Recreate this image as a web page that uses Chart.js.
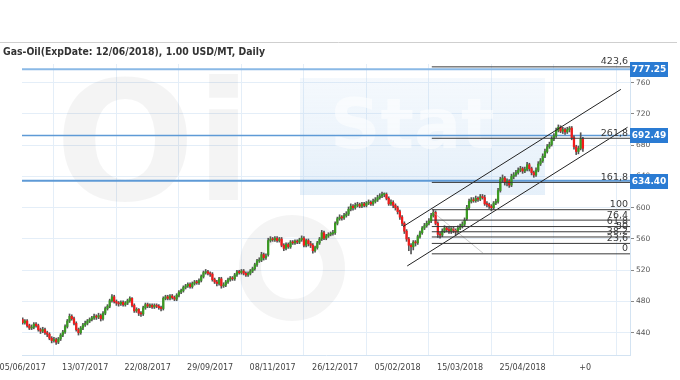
<!DOCTYPE html>
<html><head><meta charset="utf-8">
<script src="https://cdn.jsdelivr.net/npm/chart.js@4.4.0/dist/chart.umd.min.js"></script>
<style>html,body{margin:0;padding:0;background:#fff}canvas{display:block}</style>
</head><body>
<canvas id="c" width="680" height="380"></canvas>
<script>
const chartTitle = "Gas-Oil(ExpDate: 12/06/2018), 1.00 USD/MT, Daily";
const dateLabels = ["05/06/2017","13/07/2017","22/08/2017","29/09/2017","08/11/2017","26/12/2017","05/02/2018","15/03/2018","25/04/2018","+0"];
const dateTickIdx = [0,28,56,84,112,140,168,196,224,252];
const priceTicks = [440,480,520,560,600,640,680,720,760];

const opens = [457,453,455,449,446,447,451,449,444,442,
444,440,438,433,430,431,428,432,437,441,
448,455,461,458,452,444,440,446,450,452,
455,457,459,461,460,462,458,465,471,474,
481,486,480,478,477,479,476,478,481,484,
475,468,470,465,464,472,476,474,475,473,
475,474,472,471,484,486,484,487,485,483,
488,492,494,498,500,502,499,503,505,504,
507,512,517,518,516,515,508,505,503,509,
500,501,505,508,510,509,514,518,517,519,
516,514,516,519,522,527,532,533,540,536,
540,558,560,559,561,558,560,552,548,553,
550,556,555,557,556,559,561,552,558,554,
552,545,549,555,560,568,561,564,566,567,
568,580,586,588,587,590,592,598,602,600,
603,604,602,605,603,606,607,605,608,610,
613,615,617,617,612,605,607,603,600,595,
588,580,570,560,552,550,556,555,563,568,
574,577,580,583,590,594,580,566,565,570,
574,572,570,573,571,569,574,576,579,586,
600,608,610,609,612,611,614,613,605,604,
602,600,606,608,622,636,638,632,634,629,
640,642,645,648,650,647,649,655,650,645,
642,648,656,660,666,672,678,681,688,692,
699,703,698,700,697,700,702,690,678,672,
676,688];
const closes = [453,455,449,446,447,451,449,444,442,444,
440,438,433,430,431,428,432,437,441,448,
455,461,458,452,444,440,446,450,452,455,
457,459,461,460,462,458,465,471,474,481,
486,480,478,477,479,476,478,481,484,475,
468,470,465,464,472,476,474,475,473,475,
474,472,471,484,486,484,487,485,483,488,
492,494,498,500,502,499,503,505,504,507,
512,517,518,516,515,508,505,503,509,500,
501,505,508,510,509,514,518,517,519,516,
514,516,519,522,527,532,533,540,536,538,
558,560,559,561,558,560,552,548,553,550,
556,555,557,556,559,561,552,558,554,552,
545,549,555,560,568,561,564,566,567,568,
580,586,588,587,590,592,598,602,600,603,
604,602,605,603,606,607,605,608,610,613,
615,617,617,612,605,607,603,600,595,588,
580,570,560,552,550,556,555,563,568,574,
577,580,583,590,594,580,566,565,570,574,
572,570,573,571,569,574,576,579,584,600,
608,610,609,612,611,614,613,605,604,602,
600,606,608,622,636,638,632,634,629,640,
642,645,648,650,647,649,655,650,645,642,
648,656,660,666,672,678,681,688,692,699,
703,698,700,697,700,702,690,678,672,676,
688,676];
const highs = [459,457,457,451,450,453,453,451,446,447,
446,442,440,435,434,433,434,439,443,450,
457,464,463,460,454,446,448,452,455,457,
459,461,464,463,465,464,467,473,476,483,
489,488,482,480,481,481,480,483,486,485,
477,472,471,467,474,478,478,477,477,477,
477,476,474,486,488,488,489,489,487,490,
494,496,500,502,504,504,505,507,507,509,
514,519,521,520,518,517,510,507,511,511,
504,507,510,512,512,516,520,520,521,521,
518,518,521,524,529,534,536,543,542,541,
561,563,562,563,563,562,562,554,555,555,
558,558,559,559,561,564,563,560,560,557,
554,551,557,562,571,570,566,568,569,571,
582,588,591,590,593,595,601,605,604,606,
607,606,607,607,608,610,609,611,613,616,
618,620,619,619,614,610,609,605,602,597,
590,582,572,562,554,558,558,565,570,576,
580,583,586,593,597.5,596,582,569,573,577,
576,575,576,575,573,577,579,582,587,603,
611,613,613,615,614,617,617,616,608,606,
604,608,611,625,639,642,640,637,636,643,
645,648,651,653,652,652,658,657,652,647,
651,659,663,669,675,681,684,691,695,702,
706,705,703,702,703,704,704,692,680,679,
696,690];
const lows = [451,451,447,444,444,445,447,442,439,440,
438,435,431,427,428,425,426,430,435,439,
446,453,456,450,442,437,438,444,448,450,
453,455,457,457,458,455,456,463,469,472,
479,478,475,474,475,474,474,476,479,473,
466,466,462,461,462,470,472,472,471,471,
472,470,468,469,482,482,482,483,481,481,
486,490,492,496,498,497,497,501,502,502,
505,510,515,514,512,506,503,500,501,497,
498,499,503,506,507,507,512,515,515,514,
512,512,514,517,520,525,530,531,533,534,
538,556,557,557,556,556,550,545,546,548,
548,553,553,554,554,557,550,550,551,549,
542,543,547,553,558,559,559,562,564,565,
566,578,584,584,585,588,590,596,597,598,
601,600,600,601,601,604,603,603,606,608,
611,613,614,610,603,603,600,597,592,585,
577,567,557,545,541,546,551,553,561,566,
572,575,578,581,588,578,562,561,563,568,
569,567,567,568,565,567,572,574,577,584,
598,606,607,607,608,609,611,603,601,599,
596,598,604,606,620,633,629,628,626,627,
637,640,643,646,644,645,647,647,642,639,
640,646,654,658,664,670,676,679,686,690,
697,696,695,694,695,697,687,675,668,669,
674,672];

const levelValues = [777.25, 692.49, 634.40];
const levelTexts = ["777.25", "692.49", "634.40"];
const fibRatios = [0, 0.236, 0.382, 0.5, 0.618, 0.764, 1, 1.618, 2.618, 4.236];
const fibLabels = ["0","23,6","38,2","50","61,8","76,4","100","161,8","261,8","423,6"];
const fibLow = 541, fibHigh = 597.5, fibStartIdx = 183.3;
const channelUpper = [{x:170.5, y:576}, {x:268, y:751.5}];
const channelLower = [{x:172.3, y:525.5}, {x:271, y:703}];
const fibDiagonal = [{x:184, y:594}, {x:206.2, y:542}];

const X_MIN = -0.3, X_MAX = 272.1, Y_MIN = 411.5, Y_MAX = 784;
const GREEN = "#3a9a22", RED = "#f21a1a", WICK = "#555";
const fibLevels = fibRatios.map(r => fibLow + r * (fibHigh - fibLow));

const datasets = [];
levelValues.forEach((v, i) => datasets.push({
  type: 'line', data: [{x: X_MIN, y: v}, {x: X_MAX, y: v}],
  borderColor: i === 0 ? "#8ab9e6" : "#5e9ad6", borderWidth: i === 1 ? 1.5 : 2,
  pointRadius: 0, order: 5
}));
datasets.push({
  type: 'bar', data: highs.map((h, i) => ({x: i, y: [lows[i], h]})),
  backgroundColor: WICK, barThickness: 1, grouped: false, order: 4, borderWidth: 0
});
datasets.push({
  type: 'bar', data: opens.map((o, i) => ({x: i, y: [o, closes[i]]})),
  backgroundColor: opens.map((o, i) => closes[i] >= o ? GREEN : RED),
  barThickness: 1.6, grouped: false, minBarLength: 1, order: 3, borderWidth: 0
});
datasets.push({type:'line', data: fibDiagonal, borderColor: "rgba(170,170,170,0.6)", borderWidth: 1, pointRadius: 0, order: 2});
fibLevels.forEach(v => datasets.push({
  type: 'line', data: [{x: fibStartIdx, y: v}, {x: X_MAX, y: v}],
  borderColor: "#3a3a3a", borderWidth: 1, pointRadius: 0, order: 1
}));
datasets.push({type:'line', data: channelUpper, borderColor: "#222", borderWidth: 1, pointRadius: 0, order: 1});
datasets.push({type:'line', data: channelLower, borderColor: "#222", borderWidth: 1, pointRadius: 0, order: 1});

const watermark = {
  id: 'watermark',
  beforeDatasetsDraw(chart) {
    const ctx = chart.ctx;
    ctx.save();
    ctx.fillStyle = "rgba(0,0,0,0.045)";
    ctx.font = "bold 165px 'DejaVu Sans'";
    ctx.textBaseline = "alphabetic";
    ctx.fillText("Oi", 55, 200);
    ctx.strokeStyle = "rgba(0,0,0,0.045)";
    ctx.lineWidth = 22;
    ctx.beginPath();
    ctx.arc(292, 268, 42, 0, Math.PI * 2);
    ctx.stroke();
    const g = ctx.createLinearGradient(0, 78, 0, 195);
    g.addColorStop(0, "rgba(170,205,238,0.12)");
    g.addColorStop(1, "rgba(170,205,238,0.30)");
    ctx.fillStyle = g;
    ctx.fillRect(300, 78, 245, 117);
    ctx.fillStyle = "rgba(255,255,255,0.55)";
    ctx.font = "bold 70px 'DejaVu Sans'";
    ctx.fillText("Stat", 330, 148);
    ctx.restore();
  }
};

const overlay = {
  id: 'overlay',
  afterDraw(chart) {
    const ctx = chart.ctx, ys = chart.scales.y, area = chart.chartArea;
    ctx.save();
    ctx.strokeStyle = "#cfcfcf"; ctx.lineWidth = 1;
    ctx.beginPath(); ctx.moveTo(0, 42.5); ctx.lineTo(677, 42.5); ctx.stroke();
    ctx.fillStyle = "#333";
    ctx.font = "bold 10.5px 'DejaVu Sans'";
    ctx.textBaseline = "middle"; ctx.textAlign = "left";
    ctx.fillText(chartTitle, 3, 52.5, 262);
    ctx.font = "9.5px 'DejaVu Sans'";
    ctx.fillStyle = "#3a3a3a";
    ctx.textAlign = "right"; ctx.textBaseline = "alphabetic";
    fibLevels.forEach((v, i) => {
      ctx.fillText(fibLabels[i], area.right - 2, ys.getPixelForValue(v) - 2.5);
    });
    levelValues.forEach((v, i) => {
      const y = ys.getPixelForValue(v);
      ctx.fillStyle = "#2a7bd3";
      ctx.fillRect(area.right, Math.round(y) - 7, 38, 15);
      ctx.fillStyle = "#fff";
      ctx.font = "bold 9px 'DejaVu Sans'";
      ctx.textAlign = "center"; ctx.textBaseline = "middle";
      ctx.fillText(levelTexts[i], area.right + 19, Math.round(y) + 0.5);
    });
    ctx.restore();
  }
};

new Chart(document.getElementById('c'), {
  type: 'bar',
  data: { datasets },
  options: {
    responsive: false, animation: false, devicePixelRatio: 1,
    layout: { padding: { left: 22, top: 64, right: 0, bottom: 0 } },
    plugins: { legend: { display: false }, tooltip: { enabled: false }, title: { display: false } },
    scales: {
      x: {
        type: 'linear', min: X_MIN, max: X_MAX, offset: false,
        afterBuildTicks(s) { s.ticks = dateTickIdx.map(v => ({value: v})); },
        afterFit(s) { s.height = 25; s.paddingLeft = 0; s.paddingRight = 0; },
        ticks: {
          autoSkip: false, maxRotation: 0, padding: 8, color: "#444",
          font: { family: "'DejaVu Sans'", size: 8 },
          callback: v => dateLabels[dateTickIdx.indexOf(v)]
        },
        grid: { color: "#e4eef8", drawTicks: false },
        border: { color: "#d3e3f2" }
      },
      y: {
        type: 'linear', position: 'right', min: Y_MIN, max: Y_MAX,
        afterBuildTicks(s) { s.ticks = priceTicks.map(v => ({value: v})); },
        afterFit(s) { s.width = 50; },
        ticks: {
          padding: 2, color: "#555",
          font: { family: "'DejaVu Sans'", size: 7.5 },
          callback: v => String(v)
        },
        grid: { color: "#e4eef8", tickLength: 4, tickColor: "#888" },
        border: { color: "#d3e3f2" }
      }
    }
  },
  plugins: [watermark, overlay]
});
</script>
</body></html>
